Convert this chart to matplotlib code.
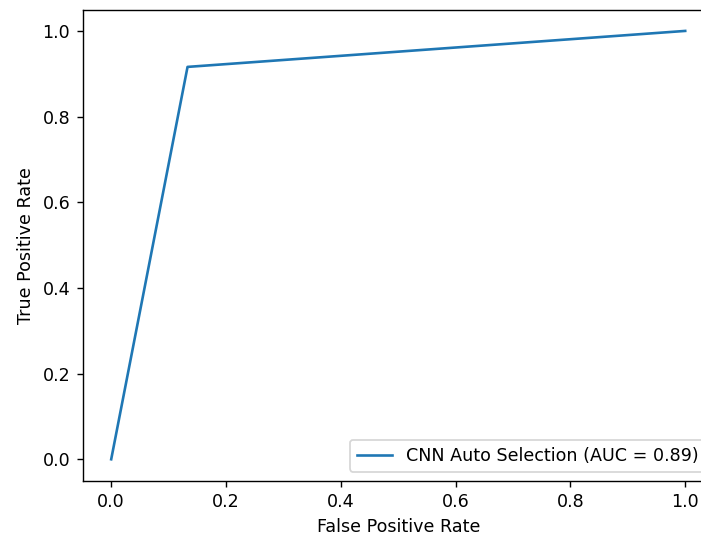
import matplotlib
matplotlib.use("Agg")
import matplotlib.pyplot as plt

# ROC points for the CNN auto-selection classifier
fpr = [0.0, 0.133, 1.0]
tpr = [0.0, 0.916, 1.0]
auc_value = 0.89
label = f"CNN Auto Selection (AUC = {auc_value:.2f})"

DPI = 126
fig = plt.figure(figsize=(701 / DPI, 538 / DPI), dpi=DPI)
# axes runs a bit past the right edge of the figure
ax = fig.add_axes([82.5 / 701, 57.3 / 538, 631.4 / 701, 471.2 / 538])

ax.plot(fpr, tpr, color="#1f77b4", label=label)
ax.set_xlabel("False Positive Rate")
ax.set_ylabel("True Positive Rate")
ax.legend(loc="lower right")

fig.savefig("out.png", dpi=DPI)
